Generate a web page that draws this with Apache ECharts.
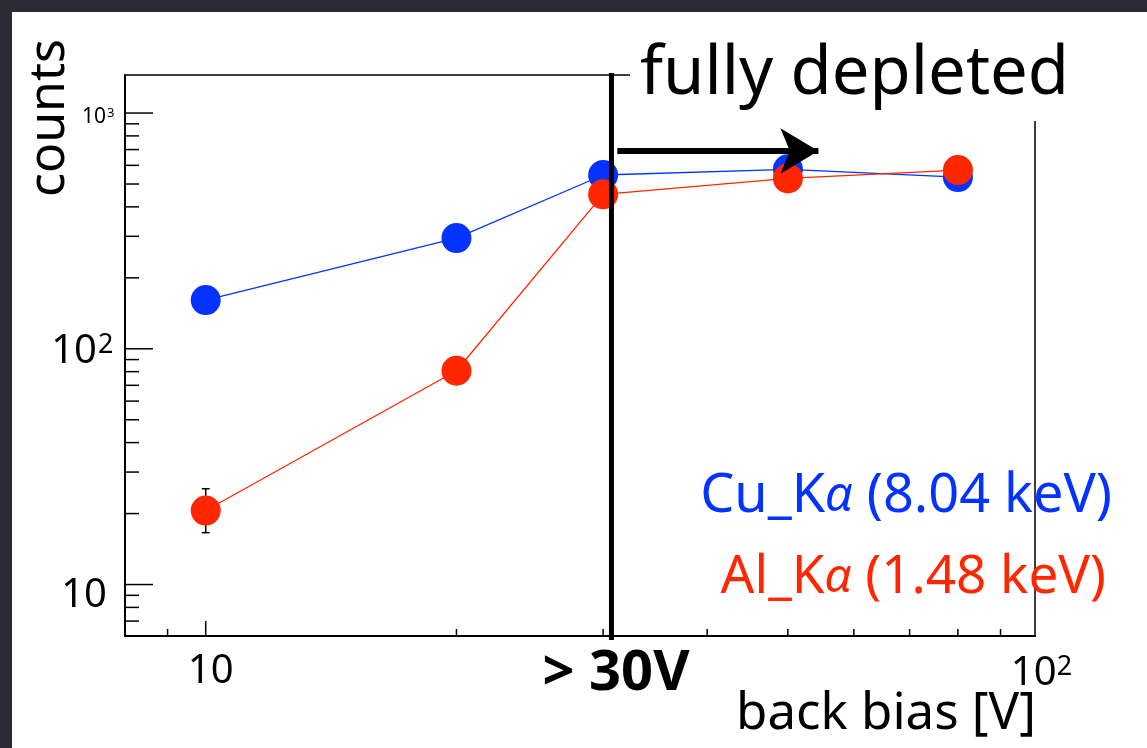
<!DOCTYPE html>
<html>
<head>
<meta charset="utf-8">
<script src="https://cdn.jsdelivr.net/npm/echarts@6/dist/echarts.min.js"></script>
<style>
html, body { margin: 0; padding: 0; background: #2c2b35; }
#chart { width: 1147px; height: 748px; }
</style>
</head>
<body>
<div id="chart"></div>
<script>
// back bias [V]
const biasV = [10, 20, 30, 50, 80];
// counts for Cu K-alpha (8.04 keV)
const cuCounts = [161, 295, 546, 577, 535];
// counts for Al K-alpha (1.48 keV)
const alCounts = [20.6, 80.7, 452, 528, 573];
// error bar on the Al point at 10 V : [x, low, high]
const alErr = [[10, 16.6, 25.5]];

// axis ranges and ticks
const X_MIN = 8, X_MAX = 99;
const Y_MIN = 6.05, Y_MAX = 1450;
const xMinorTicks = [9, 20, 30, 40, 50, 60, 70, 80, 90];
const xMajorTicks = [10];
const yMinorTicks = [7, 8, 9, 20, 30, 40, 50, 60, 70, 80, 90, 200, 300, 400, 500, 600, 700, 800, 900];
const yMajorTicks = [10, 100, 1000];
// tick labels : [value, base, exponent]
const xTickLabels = [[10, '10', ''], [100, '10', '2']];
const yTickLabels = [[10, '10', ''], [100, '10', '2'], [1000, '10', '3']];

// full depletion voltage line and arrow
const depletionV = 30.7;
const arrowFrom = [31.2, 690];
const arrowTo = [54.4, 690];

const BLUE = '#0433ff';
const RED = '#ff2600';
const FONT = '"Noto Sans", sans-serif';

// label look per tick (sizes / offsets, pixels)
const yLabelStyle = [
  { size: 40, sup: 0, dx: -18, dy: 11 },
  { size: 40, sup: 27, dx: -28, dy: 3 },
  { size: 21, sup: 13, dx: -19, dy: 4 }
];
const xLabelStyle = [
  { size: 40, sup: 0, dx: 5, y: 672 },
  { size: 40, sup: 27, dx: -5, y: 674 }
];

function tickSeries(vals, dir, len) {
  return {
    type: 'custom',
    coordinateSystem: 'cartesian2d',
    silent: true,
    z: 4,
    data: vals.map(v => dir === 'x' ? [v, Y_MIN] : [X_MIN, v]),
    renderItem: function (params, api) {
      const cs = params.coordSys;
      const p = api.coord([api.value(0), api.value(1)]);
      if (dir === 'x') {
        const yb = cs.y + cs.height;
        return { type: 'line', shape: { x1: p[0], y1: yb, x2: p[0], y2: yb - len }, style: { stroke: '#000', lineWidth: 1.5 } };
      }
      return { type: 'line', shape: { x1: cs.x, y1: p[1], x2: cs.x + len, y2: p[1] }, style: { stroke: '#000', lineWidth: 1.5 } };
    }
  };
}

function labelSeries(labels, dir) {
  return {
    type: 'custom',
    coordinateSystem: 'cartesian2d',
    silent: true,
    z: 4,
    data: labels.map(l => dir === 'x' ? [l[0], Y_MIN] : [X_MIN, l[0]]),
    renderItem: function (params, api) {
      const cs = params.coordSys;
      const i = params.dataIndex;
      const lab = labels[i];
      const p = api.coord([api.value(0), api.value(1)]);
      const children = [];
      let cx, cy, right;
      if (dir === 'x') {
        const st = xLabelStyle[i];
        cx = p[0] + st.dx; cy = st.y;
        children.push({ type: 'text', x: cx, y: cy, style: { text: lab[1], fill: '#000', fontSize: st.size, fontFamily: FONT, align: 'center', verticalAlign: 'middle' } });
        if (lab[2]) {
          right = cx + st.size * 0.55;
          children.push({ type: 'text', x: right + 1, y: cy - st.size * 0.5, style: { text: lab[2], fill: '#000', fontSize: st.sup, fontFamily: FONT, align: 'left', verticalAlign: 'top' } });
        }
      } else {
        const st = yLabelStyle[i];
        right = cs.x + st.dx; cy = p[1] + st.dy;
        children.push({ type: 'text', x: right, y: cy, style: { text: lab[1], fill: '#000', fontSize: st.size, fontFamily: FONT, align: 'right', verticalAlign: 'middle' } });
        if (lab[2]) {
          children.push({ type: 'text', x: right + 1, y: cy - st.size * 0.5, style: { text: lab[2], fill: '#000', fontSize: st.sup, fontFamily: FONT, align: 'left', verticalAlign: 'top' } });
        }
      }
      return { type: 'group', children: children };
    }
  };
}

const chart = echarts.init(document.getElementById('chart'));

const option = {
  animation: false,
  backgroundColor: '#2c2b35',
  grid: {
    left: 125, right: 112, top: 75, bottom: 112,
    show: true, borderColor: '#000', borderWidth: 1.5, backgroundColor: 'transparent'
  },
  xAxis: {
    type: 'log', min: X_MIN, max: X_MAX,
    axisLine: { show: true, lineStyle: { color: '#000', width: 2 } },
    axisTick: { show: false }, axisLabel: { show: false }, splitLine: { show: false }
  },
  yAxis: {
    type: 'log', min: Y_MIN, max: Y_MAX,
    axisLine: { show: true, lineStyle: { color: '#000', width: 2 } },
    axisTick: { show: false }, axisLabel: { show: false }, splitLine: { show: false }
  },
  graphic: [
    { type: 'rect', left: 12, top: 12, z: -100, shape: { width: 1135, height: 736 }, style: { fill: '#fff' } },
    // white box behind the "fully depleted" text, hides the top-right frame corner
    { type: 'rect', left: 630, top: 12, z: 100, shape: { width: 517, height: 109 }, style: { fill: '#fff' } },
    { type: 'text', left: 640, top: 41, z: 101, style: { text: 'fully depleted', fill: '#000', fontSize: 67, fontFamily: FONT } },
    { type: 'text', x: 50, y: 118, rotation: Math.PI / 2, z: 101,
      style: { text: 'counts', fill: '#000', fontSize: 50, fontFamily: FONT, align: 'center', verticalAlign: 'middle' } },
    { type: 'text', x: 616, y: 674, z: 101,
      style: { text: '> 30V', fill: '#000', fontSize: 56, fontWeight: 'bold', fontFamily: FONT, align: 'center', verticalAlign: 'middle' } },
    { type: 'text', x: 1036, y: 714, z: 101,
      style: { text: 'back bias [V]', fill: '#000', fontSize: 51, fontFamily: FONT, align: 'right', verticalAlign: 'middle' } },
    { type: 'text', x: 1112, y: 497, z: 101,
      style: { text: 'Cu_K{a|α} (8.04 keV)', fill: BLUE, fontSize: 54, fontFamily: FONT, align: 'right', verticalAlign: 'middle',
        rich: { a: { fill: BLUE, fontSize: 49, fontStyle: 'italic', fontFamily: FONT } } } },
    { type: 'text', x: 1106, y: 578, z: 101,
      style: { text: 'Al_K{a|α} (1.48 keV)', fill: RED, fontSize: 53, fontFamily: FONT, align: 'right', verticalAlign: 'middle',
        rich: { a: { fill: RED, fontSize: 48, fontStyle: 'italic', fontFamily: FONT } } } }
  ],
  series: [
    tickSeries(xMinorTicks, 'x', 7),
    tickSeries(xMajorTicks, 'x', 15),
    tickSeries(yMinorTicks, 'y', 14),
    tickSeries(yMajorTicks, 'y', 28),
    labelSeries(xTickLabels, 'x'),
    labelSeries(yTickLabels, 'y'),
    {
      name: 'Al error',
      type: 'custom',
      coordinateSystem: 'cartesian2d',
      silent: true,
      z: 1,
      data: alErr,
      encode: { x: 0, y: [1, 2] },
      renderItem: function (params, api) {
        const lo = api.coord([api.value(0), api.value(1)]);
        const hi = api.coord([api.value(0), api.value(2)]);
        const st = { stroke: '#000', lineWidth: 1.5 };
        return { type: 'group', children: [
          { type: 'line', shape: { x1: lo[0], y1: lo[1], x2: hi[0], y2: hi[1] }, style: st },
          { type: 'line', shape: { x1: lo[0] - 4, y1: lo[1], x2: lo[0] + 4, y2: lo[1] }, style: st },
          { type: 'line', shape: { x1: hi[0] - 4, y1: hi[1], x2: hi[0] + 4, y2: hi[1] }, style: st }
        ] };
      }
    },
    {
      name: 'Cu_Kα',
      type: 'line',
      z: 2,
      data: biasV.map((x, i) => [x, cuCounts[i]]),
      symbol: 'circle', symbolSize: 30, showSymbol: true,
      itemStyle: { color: BLUE },
      lineStyle: { color: BLUE, width: 1.3 },
      emphasis: { disabled: true }
    },
    {
      name: 'Al_Kα',
      type: 'line',
      z: 3,
      data: biasV.map((x, i) => [x, alCounts[i]]),
      symbol: 'circle', symbolSize: 30, showSymbol: true,
      itemStyle: { color: RED },
      lineStyle: { color: RED, width: 1.3 },
      emphasis: { disabled: true }
    },
    {
      name: 'depletion',
      type: 'custom',
      coordinateSystem: 'cartesian2d',
      silent: true,
      z: 6,
      data: [[depletionV, Y_MIN]],
      renderItem: function (params, api) {
        const cs = params.coordSys;
        const p = api.coord([api.value(0), api.value(1)]);
        return { type: 'line', shape: { x1: p[0], y1: cs.y - 2, x2: p[0], y2: cs.y + cs.height + 4 }, style: { stroke: '#000', lineWidth: 5 } };
      },
      markLine: {
        silent: true,
        symbol: ['none', 'arrow'],
        symbolSize: [34, 38],
        label: { show: false },
        lineStyle: { color: '#000', width: 6, type: 'solid' },
        itemStyle: { color: '#000' },
        data: [[{ coord: arrowFrom }, { coord: arrowTo }]]
      }
    }
  ]
};

chart.setOption(option);
</script>
</body>
</html>
